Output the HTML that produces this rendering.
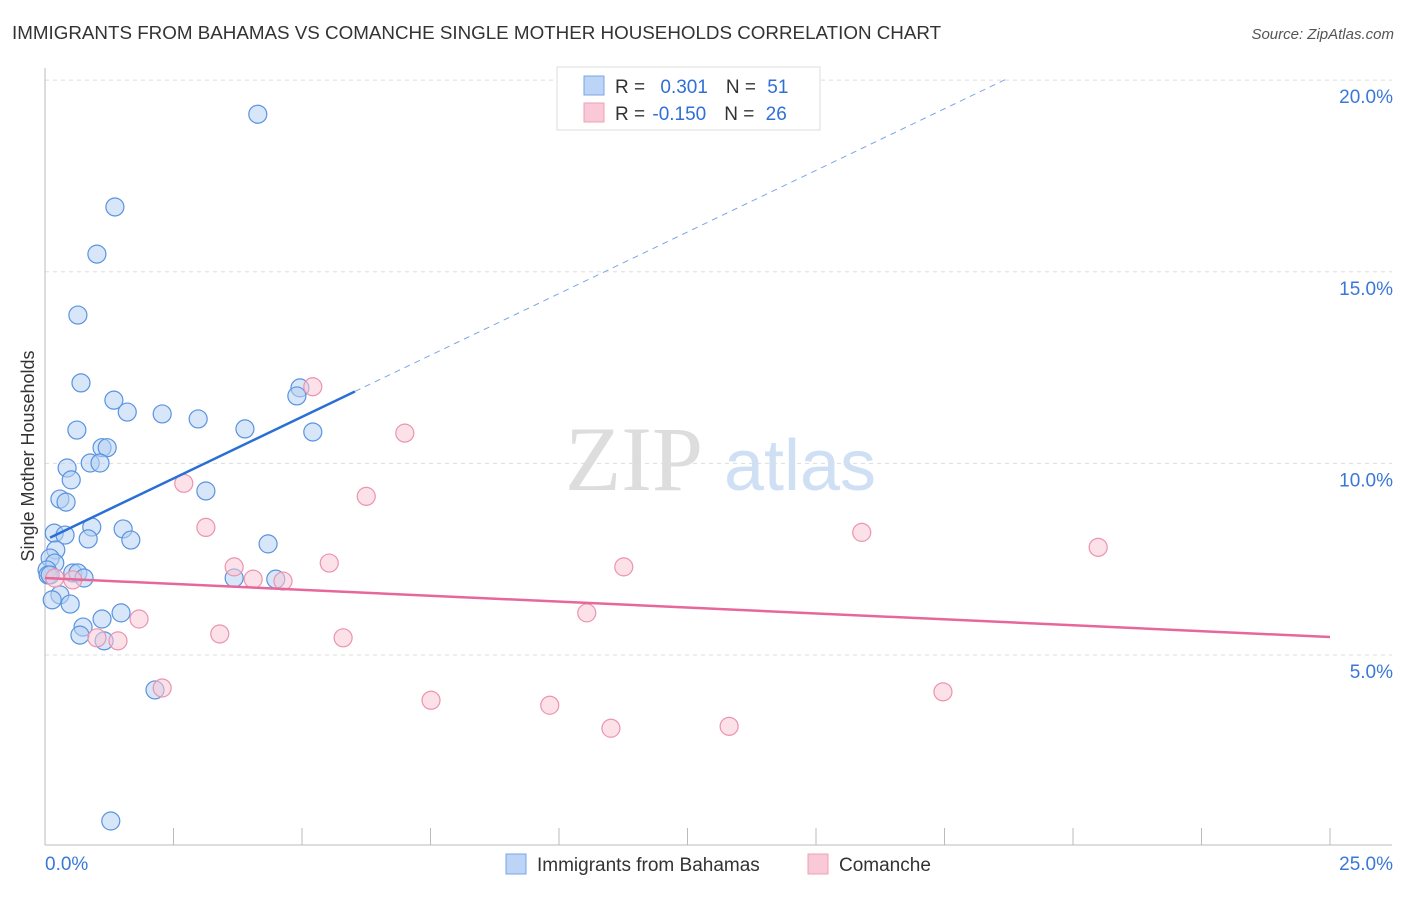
<!DOCTYPE html>
<html><head><meta charset="utf-8"><style>
body{margin:0;background:#fff;font-family:"Liberation Sans",sans-serif}
</style></head><body>
<svg width="1406" height="892" xmlns="http://www.w3.org/2000/svg" font-family="Liberation Sans, sans-serif">
<text x="12" y="39" font-size="18.8" fill="#333">IMMIGRANTS FROM BAHAMAS VS COMANCHE SINGLE MOTHER HOUSEHOLDS CORRELATION CHART</text>
<text x="1394" y="39" font-size="15" fill="#555" text-anchor="end" font-style="italic">Source: ZipAtlas.com</text>
<g>
<text x="634" y="490" font-size="92" fill="#ddd" text-anchor="middle" font-family="Liberation Serif, serif">ZIP</text>
<text x="800" y="490" font-size="72" fill="#cfe0f5" text-anchor="middle">atlas</text></g>
<g id="grid"></g><g id="axes"></g><g id="marks"></g>
<g>
<rect x="557" y="67" width="263" height="63" fill="#fff" stroke="#ddd"/>
<rect x="584" y="76" width="20" height="19" fill="#bcd4f5" stroke="#7aa6e6"/>
<rect x="584" y="103" width="20" height="19" fill="#f9c9d7" stroke="#eea0b8"/>
<text x="615" y="93" font-size="19" fill="#333">R = <tspan fill="#2f6fd6" dx="10">0.301</tspan><tspan dx="18" fill="#333">N = </tspan><tspan fill="#2f6fd6" dx="6">51</tspan></text>
<text x="615" y="120" font-size="19" fill="#333">R = <tspan fill="#2f6fd6" dx="2">-0.150</tspan><tspan dx="18" fill="#333">N = </tspan><tspan fill="#2f6fd6" dx="6">26</tspan></text>
</g>
<g>
<rect x="506" y="854" width="20" height="20" fill="#bcd4f5" stroke="#7aa6e6"/>
<text x="537" y="871" font-size="19" fill="#333">Immigrants from Bahamas</text>
<rect x="808" y="854" width="20" height="20" fill="#f9c9d7" stroke="#eea0b8"/>
<text x="839" y="871" font-size="19" fill="#333">Comanche</text>
</g>
<text transform="translate(34,456) rotate(-90)" font-size="18" fill="#333" text-anchor="middle">Single Mother Households</text>
</svg>
<script>
const blueX=[4.14,1.36,1.01,0.64,0.70,1.34,1.60,2.28,2.98,0.62,3.89,5.21,1.11,1.21,0.88,1.07,0.43,0.51,0.29,0.41,3.13,0.18,0.91,1.52,0.39,0.84,1.67,4.34,0.21,0.10,0.19,0.04,0.06,0.54,0.64,0.76,3.68,4.49,0.29,0.14,0.49,1.11,1.48,0.74,0.68,1.15,2.14,1.28,4.96,4.90,0.10];
const blueY=[19.11,16.69,15.46,13.87,12.10,11.65,11.34,11.29,11.16,10.87,10.90,10.82,10.41,10.41,10.01,10.01,9.88,9.57,9.07,8.99,9.28,8.18,8.34,8.29,8.13,8.03,8.00,7.90,7.74,7.53,7.40,7.22,7.09,7.14,7.14,7.01,7.01,6.98,6.57,6.44,6.33,5.94,6.10,5.73,5.52,5.37,4.09,0.67,11.97,11.76,7.09];
const pinkX=[5.21,7.00,2.70,6.25,3.13,15.89,20.49,5.53,3.68,11.26,4.05,4.63,0.19,0.54,10.54,1.83,3.40,5.80,1.01,1.42,2.28,7.51,17.47,9.82,11.01,13.31];
const pinkY=[12.00,10.79,9.48,9.14,8.33,8.20,7.81,7.40,7.30,7.30,6.98,6.93,7.01,6.96,6.10,5.94,5.55,5.45,5.45,5.37,4.14,3.82,4.04,3.69,3.09,3.14];
const blueTrend=[8.0,0.643]; // intercept, slope
const pinkTrend=[7.01,-0.0616];
const yTicks=[5,10,15,20];
const yTickLabels=["5.0%","10.0%","15.0%","20.0%"];
const xTicks=[0,2.5,5,7.5,10,12.5,15,17.5,20,22.5,25];
const NS="http://www.w3.org/2000/svg";
const sx=v=>45+v/25*1285, sy=v=>846.7-v*38.33;
function mk(p,t,a){const e=document.createElementNS(NS,t);for(const k in a)e.setAttribute(k,a[k]);document.getElementById(p).appendChild(e);return e;}
yTicks.forEach((t,i)=>{
 const g=mk('grid','line',{x1:45,x2:1392,y1:sy(t),y2:sy(t),stroke:'#ddd','stroke-dasharray':'4,4'});
 
 
 const l=mk('axes','text',{x:1393,y:sy(t)+23,'font-size':19,fill:'#3a78d8','text-anchor':'end'});l.textContent=yTickLabels[i];
 
 
});
const ax=mk('axes','line',{x1:45,x2:1392,y1:845,y2:845,stroke:'#bbb'});


const ay=mk('axes','line',{x1:45,x2:45,y1:68,y2:845,stroke:'#bbb'});


xTicks.forEach(t=>{const k=mk('axes','line',{x1:sx(t),x2:sx(t),y1:828,y2:845,stroke:'#bbb'});
 
 });
const x0=mk('axes','text',{x:45,y:870,'font-size':19,fill:'#3a78d8'});x0.textContent='0.0%';


const x1=mk('axes','text',{x:1393,y:870,'font-size':19,fill:'#3a78d8','text-anchor':'end'});x1.textContent='25.0%';


function pts(X,Y,f,s,n){X.forEach((x,i)=>{const c=mk('marks','circle',{cx:sx(x),cy:sy(Y[i]),r:9,fill:f,'fill-opacity':0.55,stroke:s,'stroke-width':1.2});
 
 });}
pts(blueX,blueY,'#b7d1f3','#5a93e0','bahamas-point');
pts(pinkX,pinkY,'#f9c8d6','#ec93b0','comanche-point');
const bx1=Math.max(...blueX)+0.82;
let t1=mk('marks','line',{x1:sx(0.1),y1:sy(blueTrend[0]+blueTrend[1]*0.1),x2:sx(bx1),y2:sy(blueTrend[0]+blueTrend[1]*bx1),stroke:'#2a6fd6','stroke-width':2.5});


const xe=(20-blueTrend[0])/blueTrend[1]+0.1;
let t2=mk('marks','line',{x1:sx(bx1),y1:sy(blueTrend[0]+blueTrend[1]*bx1),x2:sx(xe),y2:sy(blueTrend[0]+blueTrend[1]*xe),stroke:'#7aa6e6','stroke-width':1,'stroke-dasharray':'6,5'});


let t3=mk('marks','line',{x1:sx(0),y1:sy(pinkTrend[0]),x2:sx(25),y2:sy(pinkTrend[0]+pinkTrend[1]*25),stroke:'#e8679a','stroke-width':2.5});


</script>
</body></html>
